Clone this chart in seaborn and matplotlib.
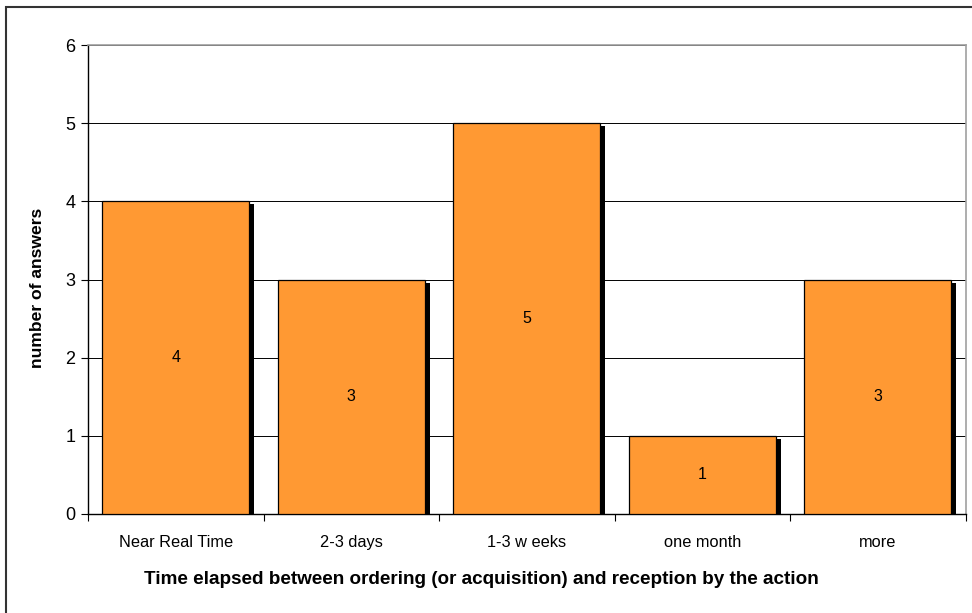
import matplotlib
matplotlib.use("Agg")
import matplotlib.pyplot as plt
import matplotlib.patheffects as pe
from matplotlib.patches import Rectangle
import seaborn as sns
import pandas as pd
import numpy as np

categories = ["Near Real Time", "2-3 days", "1-3 w eeks", "one month", "more"]
answers = [4, 3, 5, 1, 3]
yticks = [0, 1, 2, 3, 4, 5, 6]

sns.set_theme(style="white")
plt.rcParams['font.family'] = ['Liberation Sans', 'DejaVu Sans']
plt.rcParams['text.color'] = 'black'
plt.rcParams['axes.labelcolor'] = 'black'
plt.rcParams['xtick.color'] = 'black'
plt.rcParams['ytick.color'] = 'black'

W, H, DPI = 972, 613, 100
fig = plt.figure(figsize=(W / DPI, H / DPI), dpi=DPI)
ax = fig.add_axes([88 / W, (H - 514) / H, (965.5 - 88) / W, (514 - 45) / H])

df = pd.DataFrame({"category": categories, "answers": answers})
sns.barplot(data=df, x="category", y="answers", order=categories, ax=ax,
            color="#FF9933", saturation=1, width=0.84,
            edgecolor="black", linewidth=0.9, zorder=3)

px = 72 / DPI
for p in ax.patches:
    p.set_path_effects([pe.SimplePatchShadow(offset=(5 * px, -3 * px),
                                             shadow_rgbFace="black", alpha=1.0),
                        pe.Normal()])

# value labels at the middle of bars
for i, v in enumerate(answers):
    ax.text(i, v / 2, str(v), ha="center", va="center", fontsize=11.5,
            color="black", zorder=5)

ax.set_xlim(-0.5, len(categories) - 0.5)
ax.set_ylim(yticks[0], yticks[-1])
ax.set_yticks(yticks)
ax.set_yticklabels([str(t) for t in yticks], fontsize=13)

# category ticks at boundaries, labels at centers
ax.set_xticks(np.arange(-0.5, len(categories), 1.0))
ax.set_xticklabels([""] * (len(categories) + 1))
ax.set_xticks(np.arange(len(categories)), minor=True)
ax.set_xticklabels(categories, minor=True, fontsize=11.8)
ax.tick_params(axis="x", which="major", direction="out", length=5, width=0.8,
               color="black", bottom=True)
ax.tick_params(axis="x", which="minor", length=0, pad=15, bottom=True,
               labelcolor="black")
ax.tick_params(axis="y", direction="out", length=5, width=0.8, color="black",
               left=True, pad=4, labelcolor="black")

ax.yaxis.grid(True, color="black", linewidth=0.7, zorder=0)
ax.set_axisbelow(True)

for side in ["left", "bottom"]:
    ax.spines[side].set_color("black")
    ax.spines[side].set_linewidth(1.0)
for side in ["top", "right"]:
    ax.spines[side].set_visible(True)
    ax.spines[side].set_color("#A0A0A0")
    ax.spines[side].set_linewidth(1.2)

aw, ah = 965.5 - 88, 514 - 45
ax.set_xlabel("Time elapsed between ordering (or acquisition) and reception by the action",
              fontsize=13.6, fontweight="bold", color="black")
ax.xaxis.set_label_coords((481.5 - 88) / aw, -(580 - 514) / ah)
ax.xaxis.label.set_va("center")
ax.xaxis.label.set_ha("center")
ax.set_ylabel("number of answers", fontsize=12.6, fontweight="bold", color="black")
ax.yaxis.set_label_coords(-(88 - 38) / aw, (514 - 288) / ah)
ax.yaxis.label.set_va("center")
ax.yaxis.label.set_ha("center")

# outer chart border (partially outside the image)
fig.patches.append(Rectangle((6 / W, -0.2), 1.2, (H - 6.5) / H + 0.2,
                             transform=fig.transFigure, fill=False,
                             edgecolor="#333333", linewidth=1.5))

fig.savefig("out.png", dpi=DPI)
